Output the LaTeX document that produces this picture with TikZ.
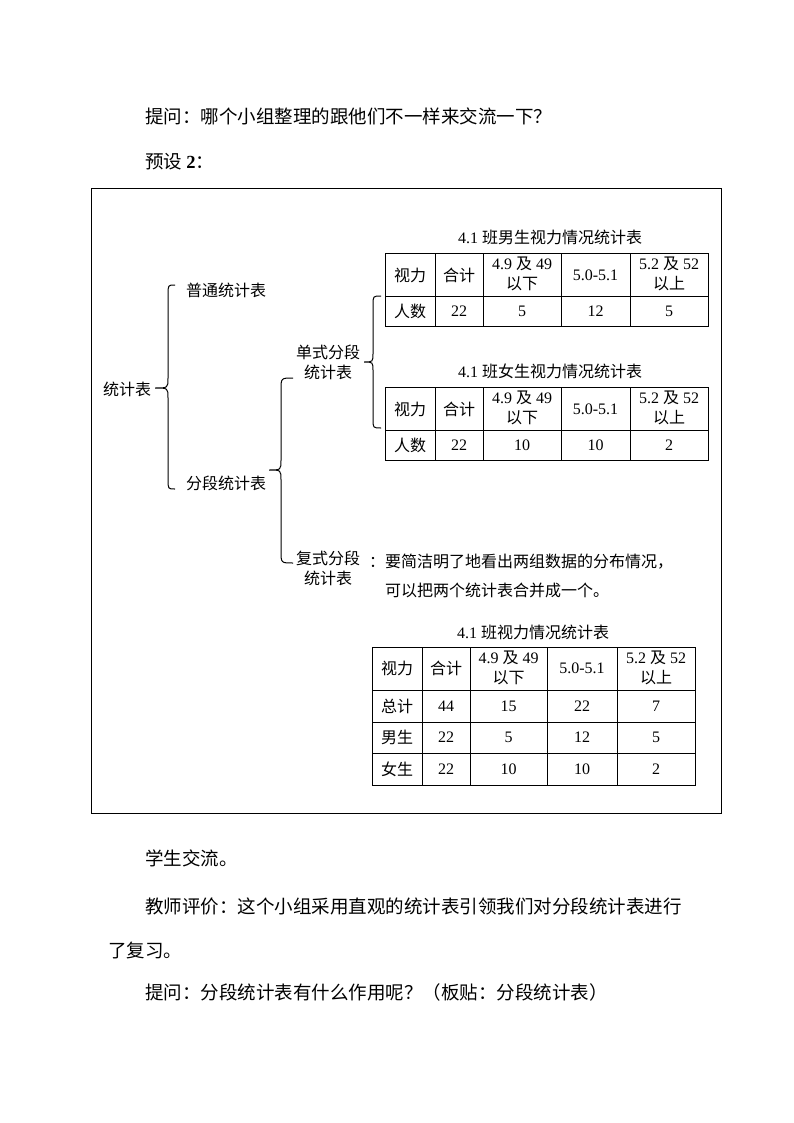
\documentclass[tikz,border=0pt]{standalone}
\usepackage{fontspec}
\setmainfont{Liberation Serif}
\newfontfamily\cjk{Noto Sans CJK SC}
\newcommand{\zh}[1]{{\cjk #1}}
\tikzset{
  body/.style={anchor=west, inner sep=0pt, font=\cjk\fontsize{18.5}{22}\selectfont},
  lbl/.style={inner sep=0pt, align=center, font=\cjk\fontsize{16}{20}\selectfont},
  cell/.style={inner sep=0pt, align=center, font=\fontsize{16}{20}\selectfont},
  rule/.style={line width=1pt},
}
\begin{document}
\begin{tikzpicture}[x=1pt, y=-1pt]
  \useasboundingbox (0,0) rectangle (794,1123);
  \fill[white] (0,0) rectangle (794,1123);
  % text above the box
  \node[body] (ask) at (145,116) {提问：哪个小组整理的跟他们不一样来交流一下？};
  \node[body] (preset) at (145,162) {预设 {\rmfamily\bfseries 2}：};
  % the box
  \draw[rule] (91,189) rectangle (721,813);
  % kinds of tables
  \node[lbl, anchor=west] (all) at (103,389) {统计表};
  \node[lbl, anchor=west] (plain) at (186,290) {普通统计表};
  \node[lbl, anchor=west] (grouped) at (186,483) {分段统计表};
  \node[lbl] (single) at (328,362) {单式分段\\统计表};
  \node[lbl] (double) at (328,568) {复式分段\\统计表};
  % brace from all
  \draw[rule] (175,285) .. controls (168,285) .. (168,295) -- (168,378)
    .. controls (168,388) .. (155,388) .. controls (168,388) .. (168,398)
    -- (168,479) .. controls (168,489) .. (175,489);
  % brace from grouped
  \draw[rule] (293,378) .. controls (281,378) .. (281,390) -- (281,460)
    .. controls (281,470) .. (269,470) .. controls (281,470) .. (281,480)
    -- (281,551) .. controls (281,563) .. (293,563);
  % brace from single
  \draw[rule] (381,296) .. controls (373,296) .. (373,305) -- (373,353)
    .. controls (373,362) .. (364,362) .. controls (373,362) .. (373,371)
    -- (373,419) .. controls (373,428) .. (381,428);
  % boys and girls, one table each
  \foreach \ty/\who/\n/\a/\b/\c [count=\k] in {253/男/22/5/12/5, 387/女/22/10/10/2} {
    \node[cell] (title\k) at (550,\ty-16) {4.1 \zh{班\who 生视力情况统计表}};
    \draw[rule] (385,\ty) rectangle (708,\ty+73) (385,\ty+43) -- (708,\ty+43);
    \foreach \x in {435,483,561,630} \draw[rule] (\x,\ty) -- (\x,\ty+73);
    \node[cell] (h\k-1) at (410,\ty+22) {\zh{视力}};
    \node[cell] (h\k-2) at (459,\ty+22) {\zh{合计}};
    \node[cell] (h\k-3) at (522,\ty+21) {4.9 \zh{及} 49\\\zh{以下}};
    \node[cell] (h\k-4) at (595.5,\ty+22) {5.0-5.1};
    \node[cell] (h\k-5) at (669,\ty+21) {5.2 \zh{及} 52\\\zh{以上}};
    \node[cell] (d\k-1) at (410,\ty+58) {\zh{人数}};
    \node[cell] (d\k-2) at (459,\ty+58) {\n};
    \node[cell] (d\k-3) at (522,\ty+58) {\a};
    \node[cell] (d\k-4) at (595.5,\ty+58) {\b};
    \node[cell] (d\k-5) at (669,\ty+58) {\c};
  }
  % why merge
  \node[lbl, anchor=west] (why) at (369,562) {：要简洁明了地看出两组数据的分布情况，};
  \node[lbl, anchor=west] (merge) at (385,590) {可以把两个统计表合并成一个。};
  % the merged table
  \node[cell] (title3) at (533,632) {4.1 \zh{班视力情况统计表}};
  \draw[rule] (372,647) rectangle (695,785);
  \foreach \y in {690,722,753} \draw[rule] (372,\y) -- (695,\y);
  \foreach \x in {422,470,547,617} \draw[rule] (\x,647) -- (\x,785);
  \node[cell] (h3-1) at (397,668.5) {\zh{视力}};
  \node[cell] (h3-2) at (446,668.5) {\zh{合计}};
  \node[cell] (h3-3) at (508.5,667.5) {4.9 \zh{及} 49\\\zh{以下}};
  \node[cell] (h3-4) at (582,668.5) {5.0-5.1};
  \node[cell] (h3-5) at (656,667.5) {5.2 \zh{及} 52\\\zh{以上}};
  \foreach \y/\who/\n/\a/\b/\c [count=\r] in {706/总计/44/15/22/7, 737.5/男生/22/5/12/5, 769/女生/22/10/10/2} {
    \node[cell] (r\r-1) at (397,\y) {\zh{\who}};
    \node[cell] (r\r-2) at (446,\y) {\n};
    \node[cell] (r\r-3) at (508.5,\y) {\a};
    \node[cell] (r\r-4) at (582,\y) {\b};
    \node[cell] (r\r-5) at (656,\y) {\c};
  }
  % text below the box
  \node[body] (talk) at (145,858) {学生交流。};
  \node[body] (review) at (145,906) {教师评价：这个小组采用直观的统计表引领我们对分段统计表进行};
  \node[body] (review2) at (108,950) {了复习。};
  \node[body] (ask2) at (145,992) {提问：分段统计表有什么作用呢？（板贴：分段统计表）};
\end{tikzpicture}
\end{document}
